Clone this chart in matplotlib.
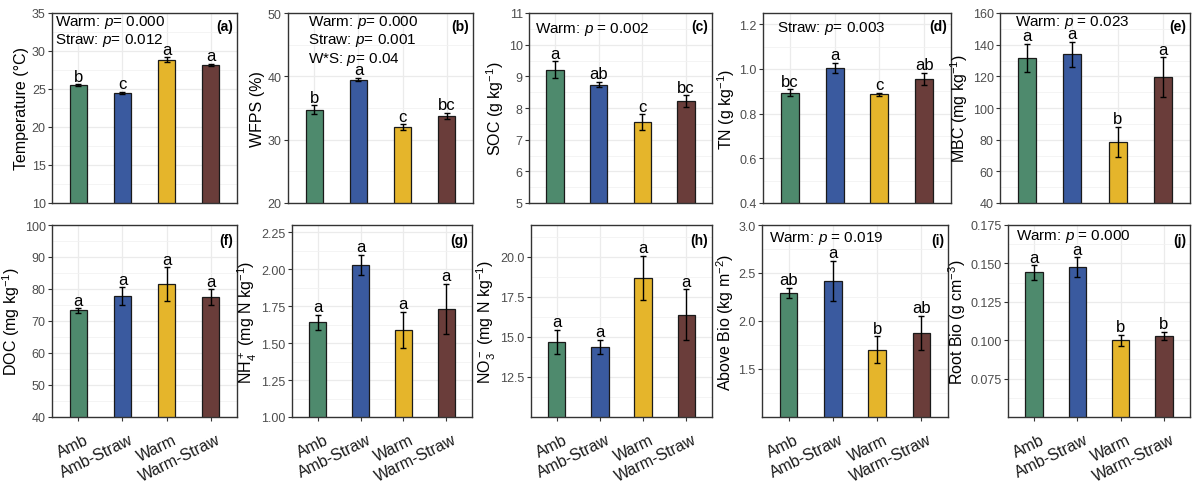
import matplotlib
matplotlib.use("Agg")
import matplotlib.pyplot as plt
from matplotlib.ticker import MultipleLocator, FixedLocator, FormatStrFormatter
from matplotlib.transforms import ScaledTranslation

plt.rcParams['font.family'] = ['Liberation Sans', 'DejaVu Sans']
plt.rcParams['mathtext.fontset'] = 'custom'
plt.rcParams['mathtext.rm'] = 'Liberation Sans'
plt.rcParams['mathtext.it'] = 'Liberation Sans:italic'
plt.rcParams['mathtext.bf'] = 'Liberation Sans:bold'

# ---- data ----
treatments = ["Amb", "Amb-Straw", "Warm", "Warm-Straw"]
colors = ["#4E8A6D", "#3A5A9F", "#E5B52B", "#6A3D3A"]

temp_mean = [25.5, 24.5, 28.87, 28.17]
temp_err = [0.1, 0.15, 0.3, 0.1]
temp_let = ["b", "c", "a", "a"]

wfps_mean = [34.7, 39.5, 31.95, 33.7]
wfps_err = [0.7, 0.3, 0.45, 0.5]
wfps_let = ["b", "a", "c", "bc"]

soc_mean = [9.21, 8.74, 7.55, 8.22]
soc_err = [0.26, 0.09, 0.25, 0.18]
soc_let = ["a", "ab", "c", "bc"]

tn_mean = [0.894, 1.004, 0.886, 0.955]
tn_err = [0.014, 0.023, 0.006, 0.026]
tn_let = ["bc", "a", "c", "ab"]

mbc_mean = [131.6, 133.9, 78.5, 119.4]
mbc_err = [8.9, 7.9, 9.7, 12.5]
mbc_let = ["a", "a", "b", "a"]

doc_mean = [73.3, 77.7, 81.6, 77.4]
doc_err = [0.7, 2.8, 5.2, 2.5]
doc_let = ["a", "a", "a", "a"]

nh4_mean = [1.64, 2.03, 1.59, 1.73]
nh4_err = [0.05, 0.07, 0.12, 0.17]
nh4_let = ["a", "a", "a", "a"]

no3_mean = [14.67, 14.37, 18.70, 16.38]
no3_err = [0.76, 0.46, 1.36, 1.59]
no3_let = ["a", "a", "a", "a"]

above_mean = [2.29, 2.42, 1.70, 1.875]
above_err = [0.054, 0.21, 0.14, 0.176]
above_let = ["ab", "a", "b", "ab"]

root_mean = [0.1441, 0.1474, 0.100, 0.103]
root_err = [0.0047, 0.0065, 0.0035, 0.0026]
root_let = ["a", "a", "b", "b"]

W, H = 1192, 489
fig = plt.figure(figsize=(W / 100, H / 100), dpi=100)
shift = ScaledTranslation(6 / 100, -5 / 100, fig.dpi_scale_trans)


def make_panel(box, mean, err, let, ylab, ylim, ticks, minor, fmt, tag, ptext, px, py, bottom_row):
    x0, y0, x1, y1 = box
    ax = fig.add_axes([x0 / W, 1 - y1 / H, (x1 - x0) / W, (y1 - y0) / H])
    pos = list(range(len(treatments)))
    ax.set_axisbelow(True)
    ax.bar(pos, mean, width=0.4, color=colors, edgecolor="#1a1a1a", linewidth=0.9, zorder=2)
    ax.errorbar(pos, mean, yerr=err, fmt="none", ecolor="black", elinewidth=1.0,
                capsize=2.5, capthick=1.0, zorder=3)
    for i in pos:
        ax.annotate(let[i], (i, mean[i] + err[i]), xytext=(0, 0.5), textcoords="offset points",
                    ha="center", va="bottom", fontsize=12, zorder=4)
    ax.set_xlim(-0.6, 3.6)
    ax.set_ylim(*ylim)
    ax.yaxis.set_major_locator(FixedLocator(ticks))
    ax.yaxis.set_minor_locator(MultipleLocator(minor))
    ax.yaxis.set_major_formatter(FormatStrFormatter(fmt))
    ax.grid(True, which="major", color="#EBEBEB", linewidth=0.9)
    ax.grid(True, which="minor", axis="y", color="#F2F2F2", linewidth=0.6)
    ax.set_xticks(pos)
    ax.tick_params(axis="y", which="major", labelsize=9, labelcolor="#4D4D4D",
                   color="#333333", length=3, width=0.8, pad=1.5)
    ax.tick_params(axis="y", which="minor", length=0)
    if bottom_row:
        ax.set_xticklabels(treatments, rotation=26, ha="right", rotation_mode="anchor",
                           fontsize=11.5, color="#1a1a1a")
        ax.tick_params(axis="x", length=3, width=0.8, color="#333333", pad=4)
        for lab in ax.get_xticklabels():
            lab.set_transform(lab.get_transform() + shift)
    else:
        ax.set_xticklabels([])
        ax.tick_params(axis="x", length=0)
    for s in ax.spines.values():
        s.set_color("#333333")
        s.set_linewidth(1.0)
    ax.set_ylabel(ylab, fontsize=11.5, labelpad=2)
    ax.text(0.98, 0.93 if not bottom_row else 0.92, tag, transform=ax.transAxes,
            ha="right", va="center", fontsize=10, fontweight="bold")
    for k, line in enumerate(ptext):
        ax.text(px, py - k * 0.096, line, transform=ax.transAxes, ha="left", va="center",
                fontsize=11, zorder=5)
    return ax


# top row
make_panel((52, 14, 237, 204), temp_mean, temp_err, temp_let, "Temperature (°C)",
           (10, 35), [10, 15, 20, 25, 30, 35], 2.5, "%d", "(a)",
           ["Warm: $p$= 0.000", "Straw: $p$= 0.012"], 0.015, 0.955, False)
make_panel((288, 14, 473, 204), wfps_mean, wfps_err, wfps_let, "WFPS (%)",
           (20, 50), [20, 30, 40, 50], 5, "%d", "(b)",
           ["Warm: $p$= 0.000", "Straw: $p$= 0.001", "W*S: $p$= 0.04"], 0.11, 0.955, False)
make_panel((529, 14, 712, 204), soc_mean, soc_err, soc_let, "SOC (g kg$^{-1}$)",
           (5, 11), [5, 6, 7, 8, 9, 10, 11], 0.5, "%d", "(c)",
           ["Warm: $p$ = 0.002"], 0.035, 0.92, False)
make_panel((763, 14, 951, 204), tn_mean, tn_err, tn_let, "TN (g kg$^{-1}$)",
           (0.4, 1.25), [0.4, 0.6, 0.8, 1.0, 1.2], 0.1, "%.1f", "(d)",
           ["Straw: $p$= 0.003"], 0.075, 0.925, False)
make_panel((1000, 14, 1190, 204), mbc_mean, mbc_err, mbc_let, "MBC (mg kg$^{-1}$)",
           (40, 160), [40, 60, 80, 100, 120, 140, 160], 10, "%d", "(e)",
           ["Warm: $p$ = 0.023"], 0.08, 0.955, False)

# bottom row
make_panel((52, 226, 237, 418), doc_mean, doc_err, doc_let, "DOC (mg kg$^{-1}$)",
           (40, 100), [40, 50, 60, 70, 80, 90, 100], 5, "%d", "(f)",
           [], 0.0, 0.0, True)
make_panel((292, 226, 472, 418), nh4_mean, nh4_err, nh4_let, "NH$_4^+$ (mg N kg$^{-1}$)",
           (1.0, 2.3), [1.0, 1.25, 1.5, 1.75, 2.0, 2.25], 0.125, "%.2f", "(g)",
           [], 0.0, 0.0, True)
make_panel((531, 226, 712, 418), no3_mean, no3_err, no3_let, "NO$_3^-$ (mg N kg$^{-1}$)",
           (10, 22), [12.5, 15.0, 17.5, 20.0], 1.25, "%.1f", "(h)",
           [], 0.0, 0.0, True)
make_panel((762, 226, 948, 418), above_mean, above_err, above_let, "Above Bio (kg m$^{-2}$)",
           (1.0, 3.0), [1.5, 2.0, 2.5, 3.0], 0.25, "%.1f", "(i)",
           ["Warm: $p$ = 0.019"], 0.04, 0.935, True)
make_panel((1008, 226, 1190, 418), root_mean, root_err, root_let, "Root Bio (g cm$^{-3}$)",
           (0.05, 0.175), [0.075, 0.1, 0.125, 0.15, 0.175], 0.0125, "%.3f", "(j)",
           ["Warm: $p$ = 0.000"], 0.045, 0.945, True)

fig.savefig("out.png", dpi=100)
